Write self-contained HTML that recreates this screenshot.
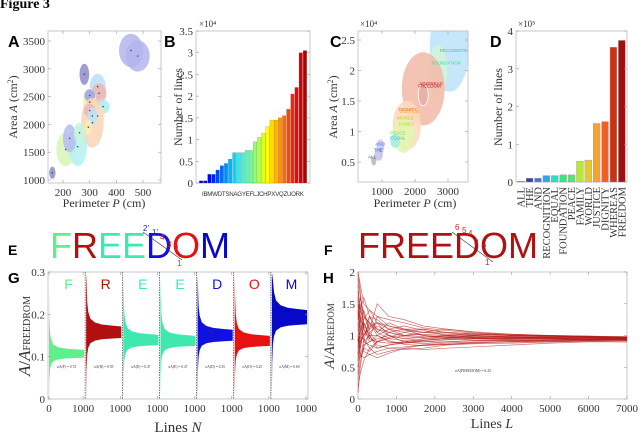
<!DOCTYPE html>
<html><head><meta charset="utf-8">
<style>
html,body{margin:0;padding:0;background:#fff;width:640px;height:441px;overflow:hidden}
svg{display:block}
text{font-family:"Liberation Serif",serif;fill:#333}
.sans{font-family:"Liberation Sans",sans-serif}
</style></head>
<body>
<svg id="fig" width="640" height="441" viewBox="0 0 640 441">
<text x="0" y="8" font-size="14" font-weight="bold" style="fill:#000">Figure 3</text>
<text class="sans" x="8" y="47" font-size="16" font-weight="bold" style="fill:#000">A</text>
<text class="sans" x="164" y="47" font-size="16" font-weight="bold" style="fill:#000">B</text>
<text class="sans" x="330" y="47" font-size="16" font-weight="bold" style="fill:#000">C</text>
<text class="sans" x="490" y="47" font-size="16" font-weight="bold" style="fill:#000">D</text>
<text class="sans" x="8" y="255" font-size="14" font-weight="bold" style="fill:#000">E</text>
<text class="sans" x="324" y="255" font-size="14" font-weight="bold" style="fill:#000">F</text>
<text class="sans" x="8" y="283" font-size="15" font-weight="bold" style="fill:#000">G</text>
<text class="sans" x="323" y="283" font-size="15" font-weight="bold" style="fill:#000">H</text>
<g id="g"></g>
</svg>
<script>
// ---- data ----
const bLetters=["I","B","M","W","D","T","S","N","A","G","Y","E","F","L","J","C","H","P","X","V","Q","Z","U","O","R","K"];
const bValues=[0.05,0.05,0.2,0.2,0.3,0.4,0.45,0.55,0.7,0.7,0.7,0.75,0.75,0.95,1.05,1.15,1.3,1.45,1.45,1.5,1.55,1.7,2.05,2.2,3.0,3.05];
const bTicks=[0,0.5,1,1.5,2,2.5,3,3.5];
const dWords=["ALL","THE","AND","RECOGNITION","EQUAL","FOUNDATION","PEACE","FAMILY","WORLD","JUSTICE","DIGNITY","WHEREAS","FREEDOM"];
const dValues=[0.02,0.1,0.1,0.17,0.17,0.19,0.19,0.55,0.58,1.55,1.6,3.57,3.75];
const dColors=["#777","#3a3aa8","#4a6ee8","#2aa8e8","#30d8d0","#30e880","#50e870","#b8e830","#e8c830","#f8a030","#f06020","#d03010","#a01010"];
const dTicks=[0,1,2,3,4];
const aEllipses=[[160,1130,12,110,"#8890c8"],[455,3330,45,300,"#b4b4ee"],[480,3230,45,280,"#b4b4ee"],[280,2900,18,190,"#8c8ccc"],[330,2680,30,230,"#b8e0f8"],[335,2560,28,180,"#f0b4b4"],[300,2400,25,250,"#f8f2b0"],[300,2520,20,110,"#9aa0ee"],[350,2320,25,120,"#a8eeee"],[310,2030,42,450,"#fcd4b4"],[330,2150,25,200,"#fcdcc0"],[300,2250,22,120,"#f0b4b4"],[310,2150,20,160,"#b8e4f8"],[210,1550,35,300,"#d8f5b4"],[255,1600,35,350,"#b4f0f0"],[225,1750,25,250,"#b4bcf2"],[262,1850,22,180,"#c8f5d8"],[295,1950,14,140,"#f8f0b0"]];
const aXTicks=[200,300,400,500];
const aYTicks=[1000,1500,2000,2500,3000,3500];
const cEllipses=[[3050,2.4,600,0.75,"#c0e4f8"],[2700,2.0,280,0.42,"#ccf5dc"],[2250,1.7,650,0.6,"#f2bcac"],[1750,1.1,430,0.4,"#fcdcc0"],[1650,0.95,300,0.3,"#e2f5b0"],[1400,0.85,150,0.12,"#a8ece4"],[950,0.75,120,0.12,"#c4ccf5"],[900,0.62,130,0.1,"#c4c4ea"],[750,0.52,80,0.08,"#bcbcbc"]];
const cLabels=[["RECOGNITION",2750,2.3,"#4aa8e8"],["FOUNDATION",2500,2.1,"#40d890"],["WHEREAS",2150,1.76,"#c03020"],["FREEDOM",2100,1.72,"#a01010"],["DIGNITY",1500,1.34,"#e06020"],["JUSTICE",1550,1.3,"#f0a030"],["WORLD",1450,1.2,"#d8c020"],["FAMILY",1500,1.1,"#c0d020"],["PEACE",1250,0.95,"#70e050"],["EQUAL",1250,0.87,"#30c8c0"],["AND",800,0.77,"#4a6ee8"],["THE",750,0.67,"#3a3aa8"],["ALL",580,0.56,"#555"]];
const cXTicks=[1000,2000,3000];
const cYTicks=[0.5,1,1.5,2,2.5];
const gLetters=["F","R","E","E","D","O","M"];
const gMeans=[0.105,0.155,0.137,0.135,0.148,0.135,0.19];
const gSigma=["0.72","0.59","0.47","0.47","0.35","0.25","0.60"];
const gColors=["#5ef08a","#b01010","#40e8b0","#40e8b0","#1010e0","#e81010","#0808c8"];
const gSpreadN=[0,10,30,60,120,250,450,700,1000];
const gSpread=[1.0,0.55,0.32,0.22,0.15,0.11,0.09,0.08,0.07];
const gYTicks=[0,0.1,0.2,0.3];
const hL=[0,60,150,300,500,800,1200,1700,2300,3000,4000,5000,6000,7000];
const hSeries=[
[1.9,1.6,1.3,1.2,1.1,1.05,1.1,1.05,1.02,1.0,0.98,0.96,0.95,0.94],
[0.3,0.6,0.8,0.75,0.9,0.95,0.92,0.9,0.93,0.95,0.93,0.92,0.93,0.92],
[1.5,1.2,1.4,1.1,1.5,1.3,1.25,1.15,1.1,1.05,1.0,1.0,0.98,0.97],
[0.8,1.1,0.9,1.0,0.85,0.8,0.82,0.85,0.88,0.9,0.9,0.9,0.91,0.9],
[2.0,1.8,1.5,1.4,1.2,1.1,1.0,0.98,0.97,0.96,0.95,0.95,0.94,0.93],
[0.5,0.7,0.65,0.7,0.75,0.8,0.78,0.8,0.85,0.87,0.88,0.9,0.92,0.93],
[1.2,0.9,1.0,1.2,1.05,1.2,1.1,1.1,1.05,1.03,1.0,0.99,0.98,0.97],
[0.9,1.3,1.1,0.9,0.95,1.0,0.95,0.92,0.95,0.97,0.96,0.95,0.95,0.95],
[1.7,1.4,1.2,1.0,1.0,0.9,0.88,0.9,0.9,0.92,0.93,0.94,0.94,0.95],
[0.2,0.4,0.6,0.8,0.7,0.75,0.8,0.78,0.8,0.82,0.85,0.88,0.9,0.9],
[1.3,1.5,1.1,1.3,1.25,1.1,1.05,1.0,0.98,1.0,0.99,0.98,0.97,0.96],
[1.0,0.8,1.2,0.95,0.9,1.05,1.0,1.02,1.0,0.98,0.97,0.96,0.96,0.96],
[1.6,1.1,0.9,0.85,0.8,0.85,0.88,0.92,0.95,0.93,0.92,0.91,0.92,0.92],
[0.6,0.9,1.0,1.1,1.2,1.15,1.08,1.05,1.05,1.02,1.0,0.98,0.98,0.98],
[2.0,1.7,1.1,0.95,1.3,1.25,1.2,1.12,1.08,1.04,1.02,1.0,0.99,0.98],
[0.1,0.5,0.9,1.3,1.1,1.0,0.9,0.87,0.9,0.92,0.92,0.93,0.93,0.94],
[1.4,0.7,0.85,0.9,1.0,1.1,1.15,1.08,1.0,0.97,0.95,0.95,0.96,0.95],
[0.7,1.4,1.6,1.3,1.05,0.95,1.0,1.05,1.1,1.06,1.02,1.0,0.99,0.97],
[1.1,1.0,0.75,0.7,0.65,0.72,0.8,0.85,0.86,0.88,0.9,0.92,0.92,0.93],
[1.8,1.3,1.0,1.15,1.2,1.0,0.95,0.97,1.0,1.02,1.01,0.99,0.97,0.96],
[0.4,0.8,1.2,1.0,0.8,0.85,0.9,0.95,0.98,0.96,0.94,0.93,0.94,0.95],
[1.25,1.6,1.35,1.05,0.9,0.88,0.9,0.93,0.96,0.99,0.98,0.97,0.97,0.96],
[0.95,0.65,0.8,1.05,1.15,1.05,0.98,0.96,0.94,0.95,0.96,0.97,0.96,0.95],
[1.55,1.2,0.95,0.8,0.9,0.97,1.05,1.1,1.04,1.0,0.97,0.95,0.94,0.94],
[0.6,1.0,1.3,1.2,1.0,0.92,0.86,0.84,0.86,0.89,0.91,0.93,0.94,0.93],
[1.35,1.1,1.25,1.4,1.3,1.15,1.1,1.0,0.97,0.95,0.96,0.97,0.98,0.97]];
const hXTicks=[0,1000,2000,3000,4000,5000,6000,7000];
const hYTicks=[0,0.5,1,1.5,2];

const NS="http://www.w3.org/2000/svg";
const root=document.getElementById("g");
function mk(tag,attrs,parent,txt){const e=document.createElementNS(NS,tag);for(const k in attrs)e.setAttribute(k,attrs[k]);if(txt!==undefined)e.textContent=txt;(parent||root).appendChild(e);return e;}
function jet(t){const r=Math.max(0,Math.min(1,1.5-Math.abs(4*t-3))),g=Math.max(0,Math.min(1,1.5-Math.abs(4*t-2))),b=Math.max(0,Math.min(1,1.5-Math.abs(4*t-1)));return `rgb(${r*255|0},${g*255|0},${b*255|0})`;}
function frame(x0,y0,x1,y1,name){const r=mk("rect",{x:x0,y:y0,width:x1-x0,height:y1-y0,fill:"none",stroke:"#bbb","stroke-width":0.8});}
function tickY(x0,x1,y,label,fs){mk("line",{x1:x0,y1:y,x2:x0+3,y2:y,stroke:"#999","stroke-width":0.6});mk("line",{x1:x1,y1:y,x2:x1-3,y2:y,stroke:"#999","stroke-width":0.6});const t=mk("text",{x:x0-3,y:y+4,"font-size":fs||11,"text-anchor":"end"},root,label);}
function tickX(y0,y1,x,label,fs){mk("line",{x1:x,y1:y1,x2:x,y2:y1-3,stroke:"#999","stroke-width":0.6});mk("line",{x1:x,y1:y0,x2:x,y2:y0+3,stroke:"#999","stroke-width":0.6});const t=mk("text",{x:x,y:y1+13,"font-size":fs||11,"text-anchor":"middle"},root,label);}
function ylab(x,y,txt,fs,name){const t=mk("text",{x:x,y:y,"font-size":fs,"text-anchor":"middle",transform:`rotate(-90 ${x} ${y})`},root);t.innerHTML=txt;return t;}
function xlab(x,y,txt,fs,name){const t=mk("text",{x:x,y:y,"font-size":fs,"text-anchor":"middle"},root);t.innerHTML=txt;return t;}

// ---- Panel A ----
{const X=p=>63+(p-200)*0.2667,Y=a=>180-(a-1000)*0.0556;
aEllipses.forEach(e=>{const el=mk("ellipse",{cx:X(e[0]),cy:Y(e[1]),rx:e[2]*0.2667,ry:e[3]*0.0556,fill:e[4],"fill-opacity":0.85});});
aEllipses.forEach(e=>{mk("circle",{cx:X(e[0]),cy:Y(e[1]),r:0.8,fill:"#446"});});
frame(48,31,161,183,"panel-a-frame");
aXTicks.forEach(v=>tickX(31,183,X(v),v));aYTicks.forEach(v=>tickY(48,161,Y(v),v));
ylab(17,107,'Area <tspan font-style="italic">A</tspan> (cm<tspan font-size="8" dy="-4">2</tspan><tspan dy="4">)</tspan>',12,"y-axis-title-a");
xlab(104,207,'Perimeter <tspan font-style="italic">P</tspan> (cm)',12,"x-axis-title-a");}

// ---- Panel B ----
{const x0=196,x1=310,y0=31,y1=183,Y=v=>y1-v/3.5*(y1-y0),bw=(x1-x0-6)/bLetters.length;
frame(x0,y0,x1,y1,"panel-b-frame");
bValues.forEach((v,i)=>{const r=mk("rect",{x:x0+3+i*bw+0.3,y:Y(v),width:bw-0.6,height:y1-Y(v),fill:jet(0.05+0.9*i/(bLetters.length-1)),stroke:"#666","stroke-width":0.2});});
bTicks.forEach(v=>tickY(x0,x1,Y(v),v));
mk("text",{x:x0+3,y:27,"font-size":9},root,"×10⁴");
const t=mk("text",{x:(x0+x1)/2,y:196,"font-size":6.2,"text-anchor":"middle",class:"sans","textLength":x1-x0-12},root,bLetters.join(""));
ylab(182,107,'Number of lines',12,"y-axis-title-b");}

// ---- Panel C ----
{const X=p=>382+(p-1000)*0.033,Y=a=>162-(a-0.5)*61;
mk("defs",{}).innerHTML='<clipPath id="cc"><rect x="358" y="31" width="110" height="151"/></clipPath>';
const g=mk("g",{"clip-path":"url(#cc)"});
cEllipses.forEach(e=>{const el=mk("ellipse",{cx:X(e[0]),cy:Y(e[1]),rx:e[2]*0.033,ry:e[3]*61,fill:e[4],"fill-opacity":0.9},g);});
mk("ellipse",{cx:X(2250),cy:Y(1.6),rx:5,ry:11,fill:"#e8b0a8",stroke:"#fff","stroke-width":0.8},g);
cLabels.forEach(l=>{const t=mk("text",{x:X(l[1]),y:Y(l[2]),"font-size":4.5,class:"sans",style:"fill:"+l[3]},g,l[0]);});
frame(358,31,468,182,"panel-c-frame");
cXTicks.forEach(v=>tickX(31,182,X(v),v));cYTicks.forEach(v=>tickY(358,468,Y(v),v));
mk("text",{x:360,y:27,"font-size":9},root,"×10⁴");
ylab(337,107,'Area <tspan font-style="italic">A</tspan> (cm<tspan font-size="8" dy="-4">2</tspan><tspan dy="4">)</tspan>',12,"y-axis-title-c");
xlab(415,207,'Perimeter <tspan font-style="italic">P</tspan> (cm)',12,"x-axis-title-c");}

// ---- Panel D ----
{const x0=516,x1=627,y0=31,y1=182,Y=v=>y1-v/4*(y1-y0),bw=(x1-x0-2)/dWords.length;
frame(x0,y0,x1,y1,"panel-d-frame");
dValues.forEach((v,i)=>{const r=mk("rect",{x:x0+1+i*bw+0.8,y:Y(v),width:bw-1.6,height:y1-Y(v),fill:dColors[i],stroke:"#999","stroke-width":0.4});
const cx=x0+1+i*bw+bw/2+3.5;const t=mk("text",{x:cx,y:187,"font-size":10.5,"text-anchor":"end",transform:`rotate(-90 ${cx} 187)`},root,dWords[i]);});
dTicks.forEach(v=>tickY(x0,x1,Y(v),v));
mk("text",{x:518,y:27,"font-size":9},root,"×10⁵");
ylab(502,107,'Number of lines',12,"y-axis-title-d");}

// ---- E / F word graphics ----
{const cols=gColors,letters="FREEDOM".split("");
mk("rect",{x:40,y:212,width:250,height:54,fill:"#fff"});
mk("rect",{x:340,y:212,width:170,height:56,fill:"#fff"});
const t=mk("text",{x:50,y:258,"font-size":36,class:"sans"});
letters.forEach((c,i)=>{const s=mk("tspan",{fill:cols[i]},t,c);s.setAttribute('style','fill:'+cols[i]);});
const t2=mk("text",{x:358,y:258,"font-size":36,class:"sans",style:"fill:#b01010"},root,"FREEDOM");
mk("line",{x1:143,y1:232,x2:182,y2:260,stroke:"#333","stroke-width":0.6});
mk("line",{x1:452,y1:232,x2:493,y2:262,stroke:"#333","stroke-width":0.6});
[["2'",143,231,"#22c"],["1'",152,235,"#22c"],["4",160,240,"#e22"],["3",167,247,"#e22"],["2",174,251,"#e22"],["1",177,266,"#e22"]].forEach(a=>mk("text",{x:a[1],y:a[2],"font-size":8,class:"sans",style:"fill:"+a[3]},root,a[0]));
[["6",455,230],["5",462,233],["4",468,236],["3",474,245],["2",482,250],["1",485,265]].forEach(a=>mk("text",{x:a[1],y:a[2],"font-size":8,class:"sans",style:"fill:#c22"},root,a[0]));}

// ---- Panel G ----
{const x0=48,x1=308,y0=272,y1=399,W=(x1-x0)/7,Y=v=>y1-v/0.3*(y1-y0);
frame(x0,y0,x1,y1,"panel-g-frame");
gMeans.forEach((m,i)=>{const px=x0+i*W,X=n=>px+1+n/1000*(W-2);
const top=gSpreadN.map((n,k)=>`${X(n)},${Math.max(y0+2,Y(m*(1+gSpread[k]*1.5)))}`),bot=gSpreadN.map((n,k)=>`${X(n)},${Math.min(y1,Y(m*(1-gSpread[k])))}`).reverse();
const p=mk("polygon",{points:top.concat(bot).join(" "),fill:gColors[i]});
if(i>0){const d=mk("line",{x1:px,y1:y0,x2:px,y2:y1,stroke:"#222","stroke-width":0.6,"stroke-dasharray":"1.5,1"});}
const l=mk("text",{x:px+W/2+2,y:y0+17,"font-size":14,"text-anchor":"middle",class:"sans",style:"fill:"+gColors[i]},root,gLetters[i]);
mk("text",{x:px+W/2,y:Y(0.073),"font-size":3.6,"text-anchor":"middle"},root,`σA(${gLetters[i]}) = ${gSigma[i]}`);
tickX(y0,y1,px+W-2,"1000",11);});
tickX(y0,y1,x0+1,"0",11);
gYTicks.forEach(v=>tickY(x0,x1,Y(v),v));
ylab(30,336,'<tspan font-style="italic" font-size="17">A</tspan><tspan font-size="17">/</tspan><tspan font-style="italic" font-size="17">A</tspan><tspan font-size="10">FREEDROM</tspan>',17,"y-axis-title-g");
xlab(178,432,'Lines <tspan font-style="italic">N</tspan>',15,"x-axis-title-g");}

// ---- Panel H ----
{const x0=358,x1=627,y0=272,y1=399,X=l=>x0+l/7000*(x1-x0),Y=v=>y1-v/2*(y1-y0);
frame(x0,y0,x1,y1,"panel-h-frame");
hSeries.forEach((s,i)=>{const p=mk("polyline",{points:s.map((v,k)=>`${X(hL[k])},${Y(v)}`).join(" "),fill:"none",stroke:"#b01010","stroke-width":0.7,"stroke-opacity":0.6});});
hXTicks.forEach(v=>tickX(y0,y1,X(v),v));hYTicks.forEach(v=>tickY(x0,x1,Y(v),v));
mk("text",{x:473,y:372,"font-size":3.8,"text-anchor":"middle"},root,"σA(FREEDOM) = 6.25");
ylab(334,336,'<tspan font-style="italic">A</tspan>/<tspan font-style="italic">A</tspan><tspan font-size="9">FREEDOM</tspan>',15,"y-axis-title-h");
xlab(492,428,'Lines <tspan font-style="italic">L</tspan>',14,"x-axis-title-h");}
</script>
</body></html>
